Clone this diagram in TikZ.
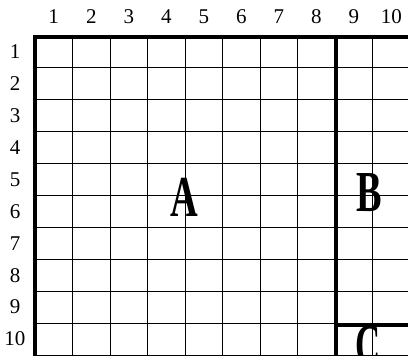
\documentclass[tikz,border=0pt]{standalone}
\usepackage{fontspec}
\newfontfamily\letterfont{Liberation Serif}
\begin{document}
\begin{tikzpicture}[x=1pt,y=-1pt,
  thin grid/.style={line width=1pt,black},
  heavy/.style={line width=4pt,black,line cap=rect},
  numlab/.style={font=\letterfont\fontsize{21}{24}\selectfont,inner sep=0pt},
  biglab/.style={font=\letterfont\bfseries\fontsize{58}{60}\selectfont,inner sep=0pt}]
\useasboundingbox (0,0) rectangle (408,356);
\clip (0,0) rectangle (408,356);
% thin grid
\foreach \i in {1,...,10} {
  \draw[thin grid] ({35+37.5*\i},35.5) -- ({35+37.5*\i},355);
}
\foreach \j in {1,...,10} {
  \draw[thin grid] (35,{35.5+31.95*\j}) -- (412,{35.5+31.95*\j});
}
% labels
\foreach \i in {1,...,10} {
  \node[numlab] (c\i) at ({35+37.5*(\i-0.5)},16.5) {\i};
  \node[numlab] (r\i) at (15,{35.5+31.95*(\i-0.5)}) {\i};
}
% heavy borders
\coordinate (tl) at (35,37);
\coordinate (tr) at (412,37);
\coordinate (bl) at (35,358);
\coordinate (mt) at (335.5,37);
\coordinate (mb) at (335.5,358);
\coordinate (cl) at (335.5,325);
\coordinate (cr) at (412,325);
\draw[heavy] (bl) -- (tl) -- (tr);
\draw[heavy] (mt) -- (mb);
\draw[heavy] (cl) -- (cr);
% region letters
\node[biglab] (A) at (184.5,197) {\scalebox{0.66}[1]{A}};
\node[biglab] (B) at (369.5,193) {\scalebox{0.66}[1]{B}};
\node[biglab] (C) at (368,346) {\scalebox{0.6}[1]{C}};
\end{tikzpicture}
\end{document}
